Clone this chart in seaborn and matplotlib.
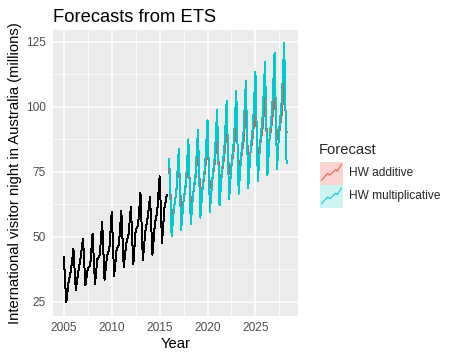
import numpy as np
import pandas as pd
import matplotlib
matplotlib.use("Agg")
import matplotlib.pyplot as plt
import seaborn as sns
from matplotlib.patches import Rectangle
from matplotlib.lines import Line2D

sns.set_theme(style="darkgrid")
plt.rcParams['font.family'] = ['Liberation Sans', 'DejaVu Sans']

# ---- data (quarterly) ----
obs_start = 2005.0
observed = [42.21, 24.65, 32.67, 37.26,
            45.24, 29.35, 36.34, 41.78,
            49.28, 31.28, 37.85, 38.84,
            51.24, 31.84, 41.32, 42.80,
            55.71, 33.41, 42.32, 45.16,
            59.58, 34.84, 44.84, 46.97,
            60.02, 38.37, 46.98, 50.73,
            61.65, 39.30, 52.67, 54.33,
            66.83, 40.87, 51.83, 57.49,
            65.25, 43.06, 54.76, 59.83,
            73.26, 47.70, 61.10, 66.06]

fc_start = 2016.0
hw_additive = [76.3, 57.8, 61.0, 67.6,
               79.0, 60.5, 63.7, 70.3,
               81.7, 63.2, 66.4, 73.0,
               84.4, 65.9, 69.1, 75.7,
               87.1, 68.6, 71.8, 78.4,
               89.8, 71.3, 74.5, 81.1,
               92.5, 74.0, 77.2, 83.8,
               95.2, 76.7, 79.9, 86.5,
               97.9, 79.4, 82.6, 89.2,
               100.6, 82.1, 85.3, 91.9,
               103.3, 84.8, 88.0, 94.6,
               106.0, 87.5, 90.7, 97.3,
               108.7, 90.2]
hw_multiplicative = [80.1, 50.3, 60.9, 67.9,
                     83.8, 52.6, 63.7, 71.1,
                     87.5, 55.0, 66.5, 74.2,
                     91.2, 57.3, 69.4, 77.4,
                     94.9, 59.6, 72.2, 80.5,
                     98.7, 62.0, 75.0, 83.7,
                     102.4, 64.3, 77.8, 86.8,
                     106.1, 66.6, 80.6, 90.0,
                     109.8, 68.9, 83.5, 93.1,
                     113.5, 71.3, 86.3, 96.3,
                     117.2, 73.6, 89.1, 99.4,
                     120.9, 75.9, 91.9, 102.6,
                     124.6, 78.3]

series_names = ["HW additive", "HW multiplicative"]
series_colors = ["#E0573F", "#00CACD"]
key_fills = ["#FAD4D0", "#CCF4F5"]

x_ticks = [2005, 2010, 2015, 2020, 2025]
y_ticks = [25, 50, 75, 100, 125]

t_obs = obs_start + np.arange(len(observed)) / 4
t_fc = fc_start + np.arange(len(hw_additive)) / 4

df_obs = pd.DataFrame({"Year": t_obs, "value": observed})
df_fc = pd.concat([
    pd.DataFrame({"Year": t_fc, "value": hw_additive, "Forecast": series_names[0]}),
    pd.DataFrame({"Year": t_fc, "value": hw_multiplicative, "Forecast": series_names[1]}),
], ignore_index=True)

W, H = 455, 362
fig = plt.figure(figsize=(W / 100, H / 100), dpi=100)
L, R, T, B = 52.7, 297.7, 30.0, 315.5
ax = fig.add_axes([L / W, 1 - B / H, (R - L) / W, (B - T) / H])
ax.set_facecolor("#EBEBEB")

sns.lineplot(data=df_obs, x="Year", y="value", color="black", lw=0.7, ax=ax,
             estimator=None, legend=False)
for name, col in zip(series_names, series_colors):
    sns.lineplot(data=df_fc[df_fc["Forecast"] == name], x="Year", y="value",
                 color=col, lw=0.7, ax=ax, estimator=None, legend=False)
for ln in ax.lines:
    ln.set_antialiased(False)

xmin, xmax = t_obs.min(), t_fc.max()
xr = xmax - xmin
ax.set_xlim(xmin - 0.05 * xr, xmax + 0.05 * xr)
allv = observed + hw_additive + hw_multiplicative
ymin, ymax = min(allv), max(allv)
yr = ymax - ymin
ax.set_ylim(ymin - 0.05 * yr, ymax + 0.05 * yr)

ax.set_xticks(x_ticks)
ax.set_xticklabels([str(v) for v in x_ticks])
ax.set_yticks(y_ticks)
ax.set_yticklabels([str(v) for v in y_ticks])
ax.set_xticks([2007.5, 2012.5, 2017.5, 2022.5, 2027.5], minor=True)
ax.set_yticks([37.5, 62.5, 87.5, 112.5], minor=True)
ax.grid(which="major", color="white", lw=1.1)
ax.grid(which="minor", color="white", lw=0.55)
ax.tick_params(which="major", length=3, width=0.8, color="#333333",
               labelsize=8.6, labelcolor="#4D4D4D", pad=2)
ax.tick_params(which="minor", length=0)
for s in ax.spines.values():
    s.set_visible(False)
ax.set_axisbelow(True)

ax.set_xlabel("Year", fontsize=10.6, color="black", labelpad=2)
ax.set_ylabel("International visitor night in Australia (millions)", fontsize=10.6,
              color="black", labelpad=3)
ax.set_title("Forecasts from ETS", fontsize=13.2, loc="left", pad=6, color="black")

# ---- legend ----
def fx(px):
    return px / W

def fy(py):
    return 1 - py / H

fig.text(fx(319), fy(150), "Forecast", fontsize=10.6, va="center", ha="left")
key_top = [161.5, 185.0]
kw, kh = 23.0, 23.0
zig_x = [0.08, 0.35, 0.45, 0.70, 0.78, 0.95]
zig_y = [0.18, 0.48, 0.40, 0.65, 0.58, 0.88]
for i, (name, col, fcol) in enumerate(zip(series_names, series_colors, key_fills)):
    x0 = 319.5
    y0 = key_top[i]
    fig.add_artist(Rectangle((fx(x0), fy(y0 + kh)), kw / W, kh / H,
                             facecolor=fcol, edgecolor="none", transform=fig.transFigure))
    fig.add_artist(Line2D([fx(x0 + zx * kw) for zx in zig_x],
                          [fy(y0 + kh - zy * kh) for zy in zig_y],
                          color=col, lw=0.7, transform=fig.transFigure))
    fig.text(fx(349), fy(y0 + kh / 2), name, fontsize=8.6, va="center", ha="left")

fig.savefig("out.png", dpi=100)
